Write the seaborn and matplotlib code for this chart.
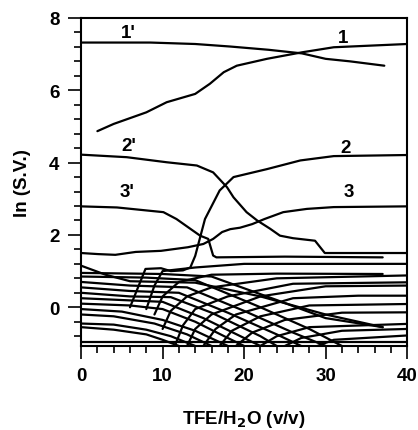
import pandas as pd
import matplotlib
matplotlib.use("Agg")
import matplotlib.pyplot as plt
from matplotlib.ticker import MultipleLocator
import seaborn as sns

# main forward (1,2,3) and backward (1',2',3') curves
f1_x = [2, 4, 8, 10.5, 14, 15.8, 17.5, 19.1, 22.8, 27.1, 31, 40]
f1_y = [4.87, 5.07, 5.39, 5.67, 5.9, 6.18, 6.5, 6.68, 6.87, 7.05, 7.19, 7.28]
b1_x = [0, 8.5, 14, 18.3, 23, 27.1, 30, 33, 37.2]
b1_y = [7.32, 7.32, 7.28, 7.21, 7.12, 7.02, 6.87, 6.8, 6.68]

f2_x = [6, 7.9, 9.8, 11, 12.5, 13.4, 14, 15.2, 17, 18.7, 22.8, 26.9, 31, 40]
f2_y = [0.0, 1.06, 1.08, 1.0, 1.02, 1.1, 1.42, 2.44, 3.23, 3.6, 3.82, 4.06, 4.18, 4.21]
b2_x = [0, 5.6, 10.5, 14.2, 16.2, 17.9, 18.7, 20.3, 21.6, 23.2, 24.4, 26, 28.7, 29.9, 35, 40]
b2_y = [4.22, 4.15, 4.01, 3.92, 3.73, 3.32, 3.04, 2.63, 2.4, 2.17, 1.98, 1.91, 1.84, 1.5, 1.5, 1.5]

f3_x = [0, 2.1, 4.2, 6.7, 9.8, 13.1, 15, 16.2, 17.3, 18.3, 19.5, 21, 22.5, 24.8, 27.7, 31, 40]
f3_y = [1.5, 1.47, 1.45, 1.53, 1.56, 1.66, 1.75, 1.89, 2.08, 2.16, 2.2, 2.3, 2.44, 2.63, 2.72, 2.77, 2.79]
b3_x = [0, 4.4, 10.1, 11.7, 13.4, 14.6, 15.6, 16.2, 16.6, 25, 37]
b3_y = [2.79, 2.76, 2.63, 2.44, 2.17, 1.98, 1.89, 1.43, 1.38, 1.4, 1.38]

# minor backward curves (start at 0 and slide down to the right)
minor_back = [
    ([0, 3, 6, 14, 22, 30, 37], [1.15, 0.9, 0.72, 0.68, 0.3, -0.2, -0.55]),
    ([0, 10, 16, 24, 30, 37], [0.95, 0.92, 0.85, 0.2, -0.3, -0.55]),
    ([0, 8, 14, 22, 28, 32], [0.85, 0.82, 0.75, 0.0, -0.6, -1.07]),
    ([0, 6, 13, 20, 26, 30], [0.7, 0.6, 0.55, -0.1, -0.7, -1.07]),
    ([0, 6, 12, 18, 24, 27], [0.55, 0.45, 0.4, -0.15, -0.75, -1.07]),
    ([0, 6, 11, 16, 22, 24], [0.4, 0.3, 0.28, -0.15, -0.8, -1.07]),
    ([0, 5, 10, 15, 20, 22], [0.25, 0.2, 0.15, -0.3, -0.85, -1.07]),
    ([0, 6, 10, 14, 18, 20], [0.1, 0.05, -0.05, -0.4, -0.85, -1.07]),
    ([0, 5, 10, 14, 18], [-0.05, -0.12, -0.35, -0.65, -1.07]),
    ([0, 4, 9, 13, 16], [-0.2, -0.25, -0.45, -0.75, -1.07]),
    ([0, 4, 8, 11, 14], [-0.45, -0.48, -0.62, -0.8, -1.07]),
    ([0, 4, 8, 10, 12], [-0.55, -0.62, -0.75, -0.9, -1.07]),
    ([0, 40], [-0.97, -0.97]),
]

# minor forward curves (shoot up from the bottom and level off)
minor_fwd = [
    ([8, 9, 10, 14, 20, 40], [-0.05, 0.6, 1.0, 1.1, 1.2, 1.2]),
    ([9, 10, 12, 16, 24, 37], [-0.2, 0.3, 0.7, 0.9, 0.93, 0.92]),
    ([10, 11, 13, 16, 24, 40], [-0.6, -0.1, 0.3, 0.55, 0.8, 0.88]),
    ([11.5, 12.5, 14, 18, 26, 40], [-1.07, -0.5, -0.05, 0.3, 0.65, 0.69]),
    ([13, 14, 16, 22, 30, 40], [-1.07, -0.6, -0.2, 0.3, 0.58, 0.6]),
    ([15, 16.5, 19, 26, 34, 40], [-1.07, -0.6, -0.2, 0.25, 0.32, 0.32]),
    ([17, 18.5, 22, 28, 40], [-1.07, -0.65, -0.25, 0.05, 0.09]),
    ([19, 21, 25, 32, 40], [-1.07, -0.7, -0.35, -0.15, -0.14]),
    ([22, 24, 28, 40], [-1.07, -0.8, -0.55, -0.46]),
    ([25, 27, 32, 40], [-1.07, -0.85, -0.65, -0.6]),
    ([29, 31, 40], [-1.07, -0.9, -0.78]),
]

labels = ["1'", "1", "2'", "2", "3'", "3"]
label_x = [5.8, 32.2, 5.9, 32.4, 5.6, 32.9]
label_y = [7.6, 7.47, 4.46, 4.43, 3.19, 3.19]

curves = [(f1_x, f1_y), (b1_x, b1_y), (f2_x, f2_y), (b2_x, b2_y),
          (f3_x, f3_y), (b3_x, b3_y)] + minor_back + minor_fwd
rows = []
for i, (xs, ys) in enumerate(curves):
    for x, y in zip(xs, ys):
        rows.append({"curve": i, "x": x, "y": y})
df = pd.DataFrame(rows)

sns.set_style("ticks")
plt.rcParams["font.family"] = ["Liberation Sans", "DejaVu Sans"]
plt.rcParams["font.weight"] = "bold"
plt.rcParams["text.color"] = "black"
plt.rcParams["axes.labelcolor"] = "black"
plt.rcParams["xtick.color"] = "black"
plt.rcParams["ytick.color"] = "black"

fig = plt.figure(figsize=(4.18, 4.31), dpi=100)
ax = fig.add_axes([0.194, 0.195, 0.78, 0.761])

sns.lineplot(data=df, x="x", y="y", hue="curve", units="curve", estimator=None,
             sort=False, palette=["black"] * len(curves), legend=False,
             linewidth=1.6, ax=ax)

for t, x, y in zip(labels, label_x, label_y):
    ax.text(x, y, t, ha="center", va="center", fontsize=13.5,
            fontweight="bold", color="black")

ax.set_xlim(0, 40)
ax.set_ylim(-1.07, 8)
ax.xaxis.set_major_locator(MultipleLocator(10))
ax.xaxis.set_minor_locator(MultipleLocator(2))
ax.yaxis.set_major_locator(MultipleLocator(2))
ax.yaxis.set_minor_locator(MultipleLocator(0.4))
ax.tick_params(which="major", direction="out", length=9.5, width=1.2,
               labelsize=13.5, pad=6, colors="black")
ax.tick_params(which="minor", direction="out", length=5, width=1.2, colors="black")
for lab in ax.get_xticklabels() + ax.get_yticklabels():
    lab.set_fontweight("bold")
for sp in ax.spines.values():
    sp.set_linewidth(1.5)
    sp.set_color("black")

ax.set_xlabel("TFE/H$_\\mathbf{2}$O (v/v)", fontsize=13.5, fontweight="bold",
              labelpad=17, color="black")
ax.set_ylabel("ln (S.V.)", fontsize=13.5, fontweight="bold", labelpad=13,
              color="black")

fig.savefig("out.png", dpi=100)
